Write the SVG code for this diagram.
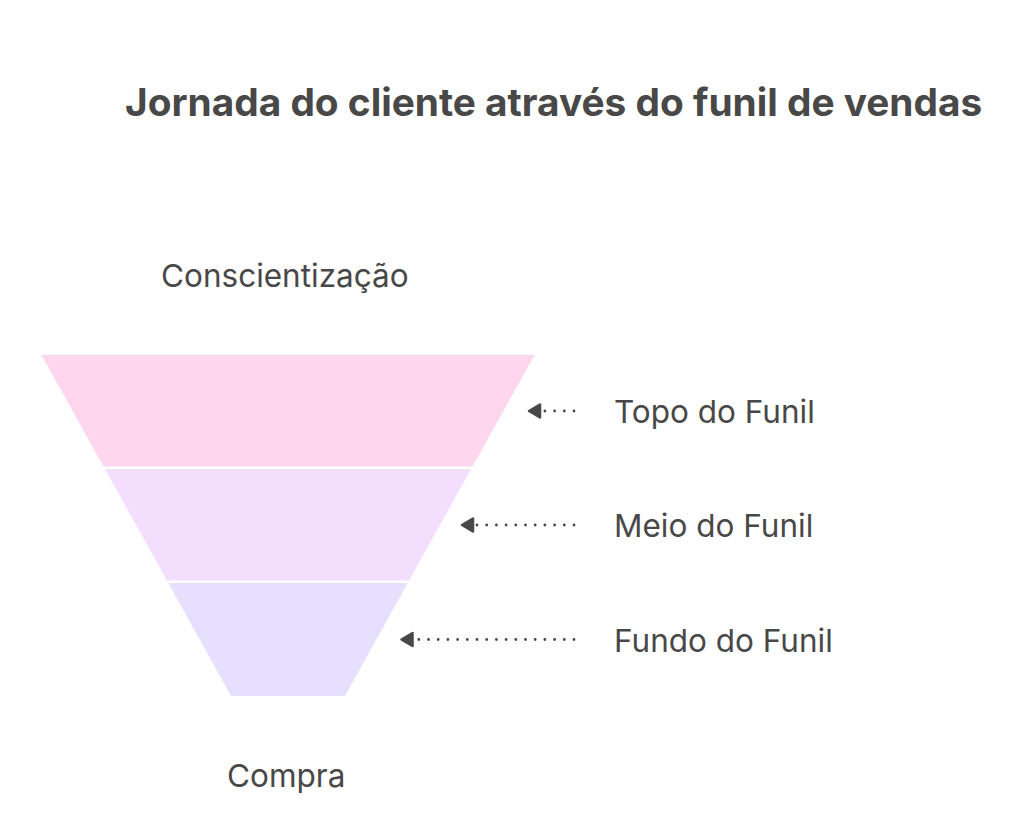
<svg xmlns="http://www.w3.org/2000/svg" width="1024" height="814" viewBox="0 0 1024 814">
<style>
  text { font-family: Inter, "Noto Sans", "Liberation Sans", sans-serif; fill: #484848; }
  .title { font-size: 38.8px; font-weight: 700; }
  .lbl { font-size: 31.5px; }
  .dot { fill: none; stroke: #484848; stroke-width: 2.8; stroke-linecap: round; stroke-dasharray: 0 9.7; }
  .head { fill: #484848; stroke: #484848; stroke-width: 2.5; stroke-linejoin: round; }
</style>
<rect width="1024" height="814" fill="#ffffff"/>
<text class="title" x="125" y="116">Jornada do cliente através do funil de vendas</text>
<g id="label-top"><text class="lbl" x="161" y="287">Conscientização</text></g>
<g id="label-bottom"><text class="lbl" x="227" y="787">Compra</text></g>
<g id="funnel-top"><polygon points="41.5,355 534.5,355 472.5,466.5 103.5,466.5" fill="#FED6EE"/></g>
<g id="funnel-middle"><polygon points="104.9,469 471.1,469 409.1,580.5 166.9,580.5" fill="#F3DFFD"/></g>
<g id="funnel-bottom"><polygon points="168.3,583 407.7,583 345,696 231,696" fill="#E6E0FE"/></g>
<g id="connectors">
  <path class="dot" d="M574,411 H538"/>
  <polygon class="head" points="529,411 540,404.5 540,417.5"/>
  <path class="dot" d="M574,525 H471"/>
  <polygon class="head" points="462,525 473,518.5 473,531.5"/>
  <path class="dot" d="M574,639.5 H411"/>
  <polygon class="head" points="401.5,639.5 412.5,633 412.5,646"/>
</g>
<g id="node-topo"><text class="lbl" x="614" y="423">Topo do Funil</text></g>
<g id="node-meio"><text class="lbl" x="614" y="537">Meio do Funil</text></g>
<g id="node-fundo"><text class="lbl" x="614" y="652">Fundo do Funil</text></g>
</svg>
